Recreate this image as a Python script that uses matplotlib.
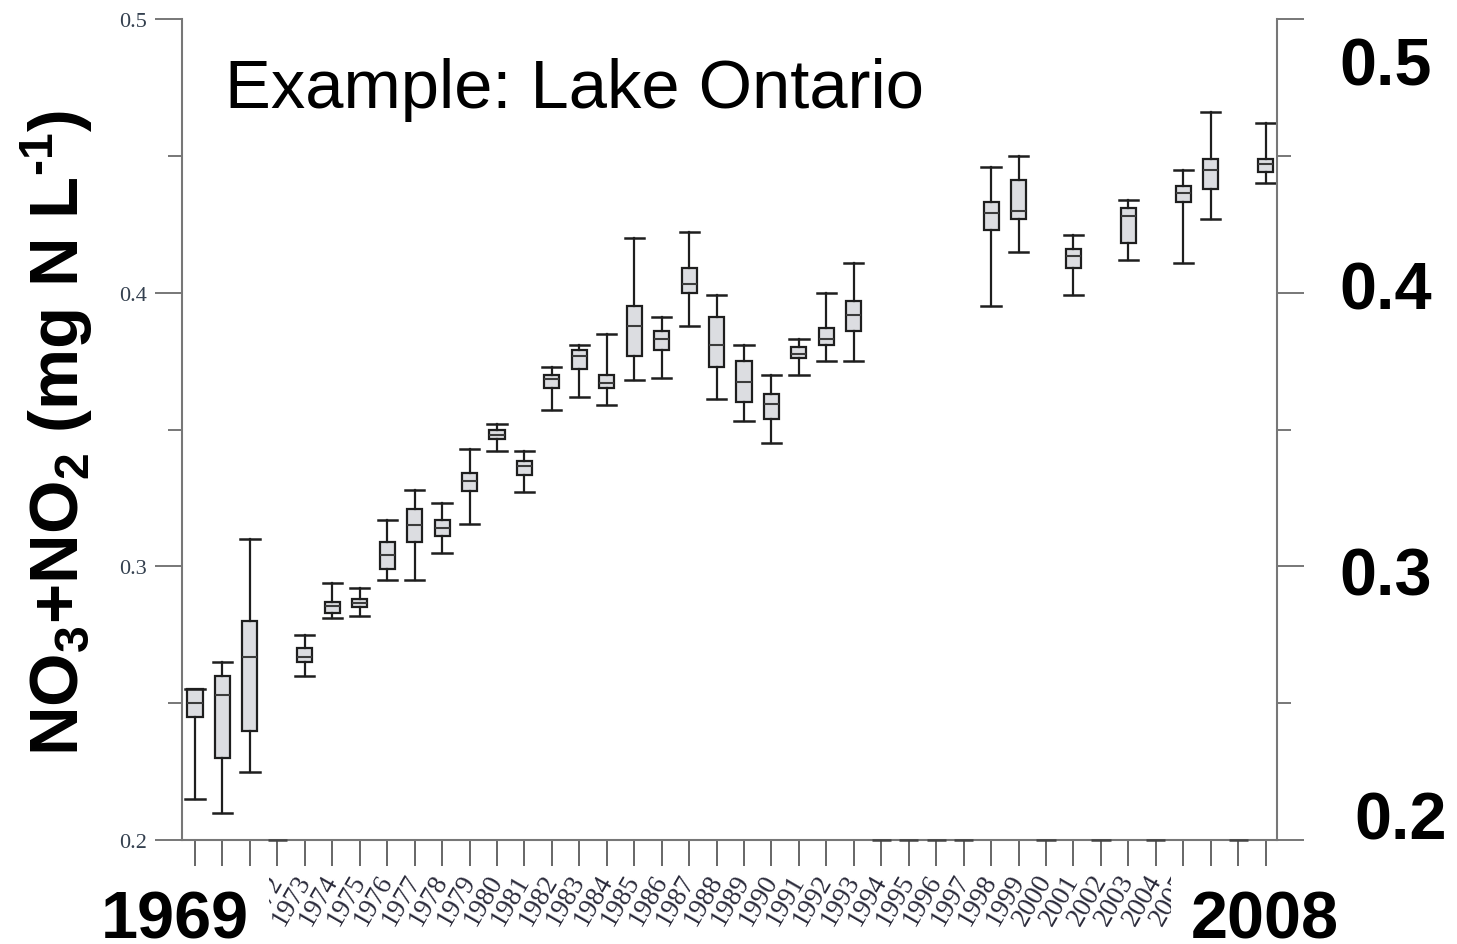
import matplotlib
matplotlib.use('Agg')
import matplotlib.pyplot as plt

plt.rcParams['font.family'] = 'Liberation Sans'
plt.rcParams['mathtext.fontset'] = 'custom'
plt.rcParams['mathtext.rm'] = 'Liberation Sans:bold'
plt.rcParams['mathtext.default'] = 'rm'

# yearly NO3+NO2 summaries (mg N/L), Lake Ontario
years = [1969, 1970, 1971, 1973, 1974, 1975, 1976, 1977, 1978, 1979,
         1980, 1981, 1982, 1983, 1984, 1985, 1986, 1987, 1988, 1989,
         1990, 1991, 1992, 1993, 1998, 1999, 2001, 2003, 2005, 2006, 2008]
whislo = [0.215, 0.210, 0.225, 0.260, 0.281, 0.282, 0.295, 0.295, 0.305, 0.3155,
          0.342, 0.327, 0.357, 0.362, 0.359, 0.368, 0.369, 0.388, 0.361, 0.353,
          0.345, 0.370, 0.375, 0.375, 0.395, 0.415, 0.399, 0.412, 0.411, 0.427, 0.440]
q1 = [0.245, 0.230, 0.240, 0.265, 0.283, 0.285, 0.299, 0.309, 0.311, 0.3275,
      0.3465, 0.3335, 0.365, 0.372, 0.365, 0.377, 0.379, 0.400, 0.373, 0.360,
      0.354, 0.376, 0.381, 0.386, 0.423, 0.427, 0.409, 0.418, 0.433, 0.438, 0.444]
median = [0.250, 0.253, 0.267, 0.267, 0.2855, 0.2865, 0.304, 0.315, 0.314, 0.331,
          0.348, 0.3365, 0.3685, 0.377, 0.367, 0.388, 0.383, 0.403, 0.381, 0.3675,
          0.3595, 0.3775, 0.383, 0.392, 0.429, 0.430, 0.4135, 0.428, 0.4365, 0.445, 0.447]
q3 = [0.255, 0.260, 0.280, 0.270, 0.287, 0.288, 0.309, 0.321, 0.317, 0.334,
      0.350, 0.3385, 0.370, 0.379, 0.370, 0.395, 0.386, 0.409, 0.391, 0.375,
      0.363, 0.380, 0.387, 0.397, 0.433, 0.441, 0.416, 0.431, 0.439, 0.4487, 0.449]
whishi = [0.255, 0.265, 0.310, 0.275, 0.294, 0.292, 0.317, 0.328, 0.323, 0.343,
          0.352, 0.342, 0.373, 0.381, 0.385, 0.420, 0.391, 0.422, 0.399, 0.381,
          0.370, 0.383, 0.400, 0.411, 0.446, 0.450, 0.421, 0.434, 0.445, 0.466, 0.462]
# years with no samples (empty boxes collapse onto the axis)
empty_years = [1972, 1994, 1995, 1996, 1997, 2000, 2002, 2004, 2007]
all_years = list(range(1969, 2009))
right_labels = ['0.5', '0.4', '0.3', '0.2']

W, H = 1457, 945
fig = plt.figure(figsize=(W / 100, H / 100), dpi=100)
ax = fig.add_axes([182 / W, 1 - 841 / H, (1277 - 182) / W, (841 - 20) / H])

stats = [dict(whislo=a, q1=b, med=c, q3=d, whishi=e, fliers=[])
         for a, b, c, d, e in zip(whislo, q1, median, q3, whishi)]
ax.bxp(stats, positions=years, widths=0.55, capwidths=0.7, patch_artist=True,
       showfliers=False, manage_ticks=False,
       boxprops=dict(facecolor='#dcdde1', edgecolor='#1e1e1e', linewidth=1.6),
       medianprops=dict(color='#3c3c3c', linewidth=1.5),
       whiskerprops=dict(color='#1e1e1e', linewidth=1.6),
       capprops=dict(color='#1e1e1e', linewidth=1.8))
ax.hlines([0.2] * len(empty_years), [y - 0.35 for y in empty_years],
          [y + 0.35 for y in empty_years], color='#444444', lw=1.8,
          clip_on=False, zorder=3)

ax.set_xlim(1968.526, 2008.415)
ax.set_ylim(0.2, 0.5)

for side in ['left', 'right', 'bottom']:
    ax.spines[side].set_color('#777777')
    ax.spines[side].set_linewidth(1.5)
ax.spines['top'].set_visible(False)

ax.set_yticks([0.2, 0.3, 0.4, 0.5])
ax.set_yticks([0.25, 0.35, 0.45], minor=True)
ax.set_yticklabels(['0.2', '0.3', '0.4', '0.5'], family='Liberation Serif',
                   color='#34404f', fontsize=16)
ax.tick_params(axis='y', which='major', length=19.5, width=1.4, color='#777777',
               left=True, right=True, labelright=False, pad=6)
ax.tick_params(axis='y', which='minor', length=10, width=1.4, color='#777777',
               left=True, right=True)

ax.set_xticks(all_years)
ax.set_xticklabels([str(y) for y in all_years], rotation=60, ha='right',
                   va='center', rotation_mode='anchor',
                   family='Liberation Serif', fontsize=19.5, color='#2a2a3a')
ax.tick_params(axis='x', which='major', length=19, width=1.4, color='#666666',
               pad=7)

ax.text(225 / W, 1 - 108 / H, 'Example: Lake Ontario', transform=fig.transFigure,
        fontsize=49.5, ha='left', va='baseline')

fig.text(57 / W, 1 - 433 / H, 'NO$_3$+NO$_2$ (mg N L$^{\u20101}$)', rotation=90,
         fontsize=49.5, fontweight='bold', ha='center', va='center')

for txt, xpix, ypix in zip(right_labels, [1386, 1386, 1386, 1401], [85, 310, 595, 840]):
    fig.text(xpix / W, 1 - ypix / H, txt, fontsize=48, fontweight='bold',
             ha='center', va='baseline')

box = dict(boxstyle='square,pad=0.3', fc='white', ec='none')
fig.text(175 / W, 1 - 939 / H, '1969', fontsize=48, fontweight='bold',
         ha='center', va='baseline', bbox=box, zorder=5)
fig.text(1265 / W, 1 - 939 / H, '2008', fontsize=48, fontweight='bold',
         ha='center', va='baseline', bbox=box, zorder=5)

fig.savefig('out.png', dpi=100)
